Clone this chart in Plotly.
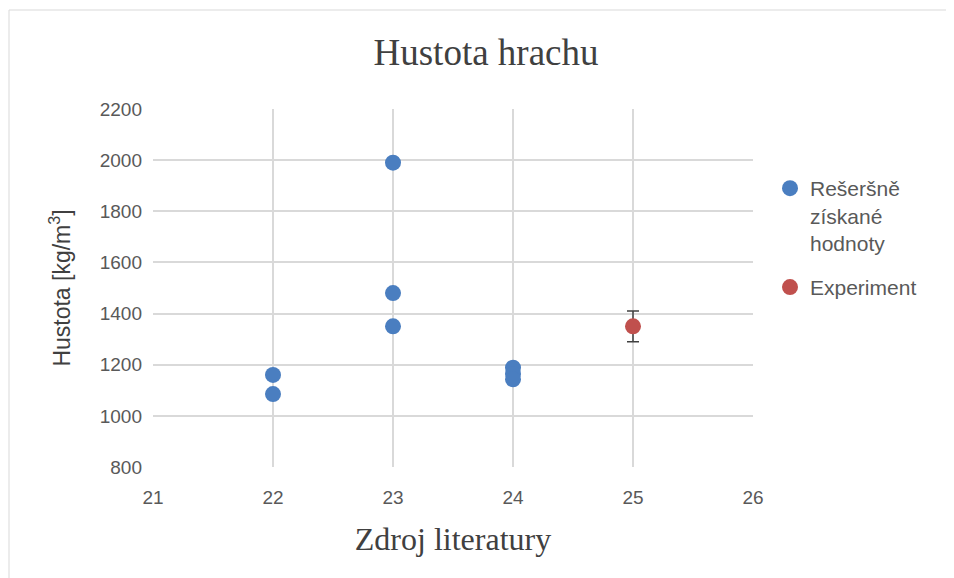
import plotly.graph_objects as go

# Data
lit_x = [22, 22, 23, 23, 23, 24, 24, 24]
lit_y = [1160, 1085, 1990, 1480, 1350, 1188, 1164, 1143]
exp_x = [25]
exp_y = [1350]
exp_err = [60]

x_ticks = [21, 22, 23, 24, 25, 26]
y_ticks = [800, 1000, 1200, 1400, 1600, 1800, 2000, 2200]

blue = "#4A7EC0"
red = "#C0504D"
sans = "Liberation Sans, Arial, sans-serif"
serif = "Liberation Serif, Times New Roman, serif"

fig = go.Figure()
fig.add_trace(go.Scatter(
    x=lit_x, y=lit_y, mode="markers", name="Rešeršně<br>získané<br>hodnoty", legendgroup="a",
    marker=dict(color=blue, size=16, line=dict(width=0)),
))
fig.add_trace(go.Scatter(
    x=exp_x, y=exp_y, mode="markers", name="Experiment", legendgroup="b",
    marker=dict(color=red, size=16, line=dict(width=0)),
    error_y=dict(type="data", array=exp_err, visible=True, color="#404040", thickness=1.5, width=6),
))

fig.update_layout(
    width=954, height=578,
    margin=dict(l=145, r=209, t=101, b=119),
    paper_bgcolor="white", plot_bgcolor="white",
    title=dict(text="Hustota hrachu", x=(478 - 145) / 600, xref="paper", xanchor="center",
               y=1 - 44 / 578, yanchor="middle",
               font=dict(family=serif, size=37, color="#404040")),
    xaxis=dict(range=[21, 26], tickvals=x_ticks, showgrid=True, gridcolor="#D9D9D9", gridwidth=1.5,
               zeroline=False, showline=False, ticks="", ticklabelstandoff=17,
               tickfont=dict(family=sans, size=19, color="#595959"),
               title=dict(text="Zdroj literatury", font=dict(family=serif, size=32, color="#404040"), standoff=20)),
    yaxis=dict(range=[800, 2200], tickvals=y_ticks, showgrid=True, gridcolor="#D9D9D9", gridwidth=1.5,
               zeroline=False, showline=False, ticks="", ticklabelstandoff=10,
               tickfont=dict(family=sans, size=19, color="#595959"),
               title=dict(text="Hustota [kg/m<sup>3</sup>]", font=dict(family=sans, size=23, color="#404040"), standoff=22)),
    legend=dict(x=(770 - 153) / 600, xanchor="left", y=(467 - 168) / 358, yanchor="top", valign="top",
                font=dict(family=sans, size=21, color="#595959"),
                tracegroupgap=14, itemwidth=30, bgcolor="rgba(0,0,0,0)"),
    shapes=[dict(type="rect", xref="paper", yref="paper", x0=(9 - 153) / 600, x1=2, y0=-1, y1=(467 - 10) / 358,
                 line=dict(color="#D9D9D9", width=1), fillcolor="rgba(0,0,0,0)", layer="below")],
)

fig.write_html("out.html")
